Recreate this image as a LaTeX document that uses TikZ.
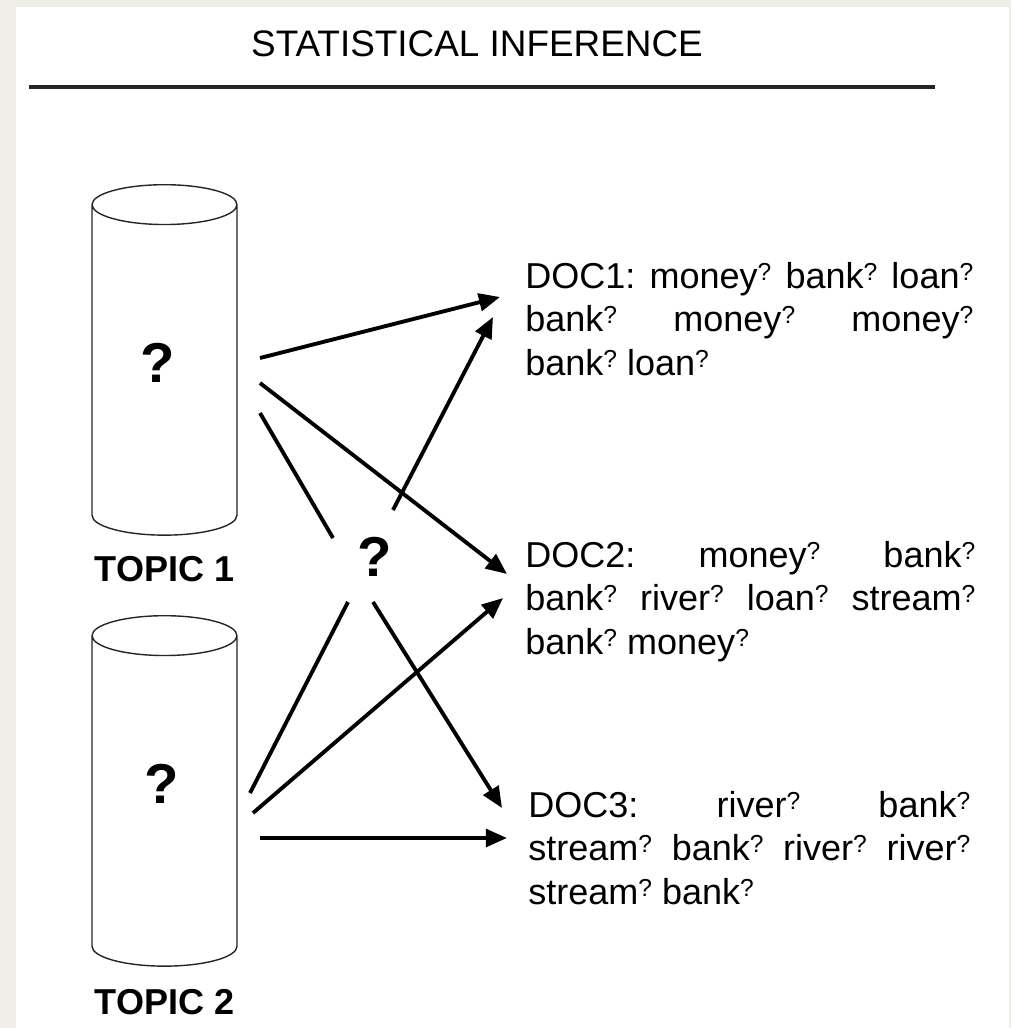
\documentclass[tikz,border=0pt]{standalone}
\usepackage{fontspec}
\setmainfont{Liberation Sans}
\usetikzlibrary{shapes.geometric,arrows.meta,positioning}

\definecolor{paper}{HTML}{EFEDE8}
\newlength{\docw}
\newcommand{\wq}{\raisebox{0.22em}{\fontsize{14}{14}\selectfont ?}}
\newcommand{\fullline}[1]{\hbox to \docw{#1}}

\tikzset{
	topic/.style={cylinder,shape border rotate=90,draw=black!85,line width=0.8pt,fill=white,aspect=3.4,minimum width=2.9cm,minimum height=7.01cm,anchor=north},
	qmark/.style={inner sep=0pt,font=\fontsize{32}{32}\selectfont\bfseries},
	topiclabel/.style={inner sep=0pt,font=\fontsize{20.5}{24}\selectfont\bfseries},
	doc/.style={anchor=north west,inner sep=0pt,align=left,font=\fontsize{20.5}{24.7}\selectfont},
	arr/.style={-{Triangle[length=12pt,width=10pt]},line width=2.2pt},
	lnk/.style={line width=2.2pt}
}

\begin{document}
\begin{tikzpicture}[x=0.02cm,y=-0.02cm]
	% page
	\fill [paper] (0,0) rectangle (1011,1028);
	\fill [white] (16,7) rectangle (1009,1028);
	\node (title) [inner sep=0pt,font=\fontsize{21}{24}\selectfont] at (477,43.5) {STATISTICAL INFERENCE};
	\draw [line width=1.8pt,black!85] (29,87) -- (935,87);
	% topics
	\node (topic1) [topic] at (164.5,184) {};
	\node (topic2) [topic] at (164.5,615) {};
	\node (q1) [qmark] at (158,363) {?};
	\node (q2) [qmark] at (162,784) {?};
	\node (label1) [topiclabel,below=0.4cm of topic1] {TOPIC 1};
	\node (label2) [topiclabel,below=0.44cm of topic2] {TOPIC 2};
	\node (mid) [qmark] at (375,557) {?};
	% documents
	\setlength{\docw}{8.96cm}
	\node (doc1) [doc] at (525,262) {\fullline{DOC1:\hfill money\wq\hfill bank\wq\hfill loan\wq}\\\fullline{bank\wq\hfill money\wq\hfill money\wq}\\bank\wq{} loan\wq};
	\setlength{\docw}{9cm}
	\node (doc2) [doc] at (525,541) {\fullline{DOC2:\hfill money\wq\hfill bank\wq}\\\fullline{bank\wq\hfill river\wq\hfill loan\wq\hfill stream\wq}\\bank\wq{} money\wq};
	\setlength{\docw}{8.84cm}
	\node (doc3) [doc] at (528,791) {\fullline{DOC3:\hfill river\wq\hfill bank\wq}\\\fullline{stream\wq\hfill bank\wq\hfill river\wq\hfill river\wq}\\stream\wq{} bank\wq};
	% links
	\draw [arr] ([shift={(95.5,174)}]topic1.north) -- ([shift={(-25,35)}]doc1.north west);
	\draw [arr] ([shift={(95.5,199)}]topic1.north) -- ([shift={(-18,33)}]doc2.north west);
	\draw [lnk] ([shift={(95.5,229)}]topic1.north) -- ([shift={(-42,-19)}]mid.center);
	\draw [arr] ([shift={(18,-47)}]mid.center) -- ([shift={(-32,55)}]doc1.north west);
	\draw [lnk] ([shift={(-27,45)}]mid.center) -- ([shift={(85.5,178)}]topic2.north);
	\draw [arr] ([shift={(-2,45)}]mid.center) -- ([shift={(-26,17)}]doc3.north west);
	\draw [arr] ([shift={(88.5,198)}]topic2.north) -- ([shift={(-22,57)}]doc2.north west);
	\draw [arr] ([shift={(95.5,223)}]topic2.north) -- ([shift={(-21,47)}]doc3.north west);
\end{tikzpicture}
\end{document}
